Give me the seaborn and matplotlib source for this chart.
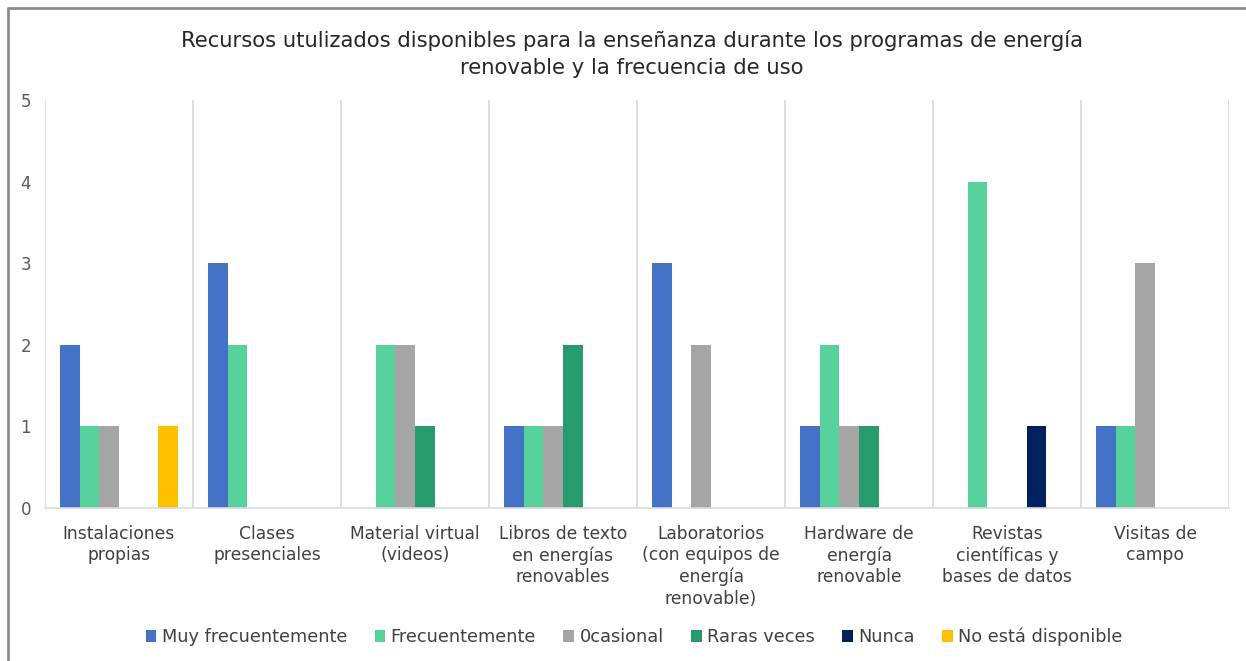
import numpy as np
import pandas as pd
import matplotlib
matplotlib.use("Agg")
import matplotlib.pyplot as plt
from matplotlib.lines import Line2D
import seaborn as sns

categories = [
    "Instalaciones\npropias",
    "Clases\npresenciales",
    "Material virtual\n(videos)",
    "Libros de texto\nen energías\nrenovables",
    "Laboratorios\n(con equipos de\nenergía\nrenovable)",
    "Hardware de\nenergía\nrenovable",
    "Revistas\ncientíficas y\nbases de datos",
    "Visitas de\ncampo",
]
series_names = ["Muy frecuentemente", "Frecuentemente", "0casional",
                "Raras veces", "Nunca", "No está disponible"]
muy_frecuentemente = [2, 3, 0, 1, 3, 1, 0, 1]
frecuentemente = [1, 2, 2, 1, 0, 2, 4, 1]
ocasional = [1, 0, 2, 1, 2, 1, 0, 3]
raras_veces = [0, 0, 1, 2, 0, 1, 0, 0]
nunca = [0, 0, 0, 0, 0, 0, 1, 0]
no_disponible = [1, 0, 0, 0, 0, 0, 0, 0]
colors = ["#4472C4", "#57D29C", "#A5A5A5", "#279B6C", "#002060", "#FFC000"]
yticks = [0, 1, 2, 3, 4, 5]
title = ("Recursos utulizados disponibles para la enseñanza durante los programas de energía\n"
         "renovable y la frecuencia de uso")

values = [muy_frecuentemente, frecuentemente, ocasional, raras_veces, nunca, no_disponible]
rows = []
for name, vals in zip(series_names, values):
    for cat, v in zip(categories, vals):
        rows.append({"cat": cat, "serie": name, "valor": v})
df = pd.DataFrame(rows)

sns.set_theme(style="white")
plt.rcParams["font.family"] = ["DejaVu Sans"]

fig = plt.figure(figsize=(12.46, 6.61), dpi=100)
ax = fig.add_axes([45/1246, 1-508/661, (1229-45)/1246, (508-100)/661])

sns.barplot(data=df, x="cat", y="valor", hue="serie", order=categories,
            hue_order=series_names, palette=colors, width=0.8, ax=ax,
            saturation=1, errorbar=None, linewidth=0)

ax.set_xlim(-0.5, len(categories) - 0.5)
ax.set_ylim(0, 5)
ax.set_yticks(yticks)
ax.set_yticklabels([str(t) for t in yticks], fontsize=12, color="#595959")
ax.tick_params(axis="y", length=0, pad=10)
ax.tick_params(axis="x", length=0, pad=12, labelsize=12.3, labelcolor="#404040")
ax.set_xlabel("")
ax.set_ylabel("")
ax.set_xticks(np.arange(-0.5, len(categories), 1), minor=True)
ax.grid(which="minor", axis="x", color="#D9D9D9", linewidth=1.2)
ax.grid(which="major", visible=False)
for s in ["top", "left", "right"]:
    ax.spines[s].set_visible(False)
ax.spines["bottom"].set_color("#D9D9D9")
ax.spines["bottom"].set_linewidth(1.2)

for lab in ax.get_xticklabels():
    lab.set_linespacing(1.25)
    lab.set_verticalalignment("top")

handles, labels = ax.get_legend_handles_labels()
ax.legend_.remove()
fig.legend(handles, labels, loc="center", bbox_to_anchor=(0.509, 1-637/661), ncol=6,
           frameon=False, fontsize=12.8, handlelength=0.6, handleheight=0.6,
           handletextpad=0.3, columnspacing=1.55, labelcolor="#404040")

fig.text(0.507, 1-54/661, title, ha="center", va="center", fontsize=15.2,
         color="#262626", linespacing=1.45)

fig.add_artist(Line2D([8/1246, 1], [1-8/661, 1-8/661], color="#8C8C8C", linewidth=2))
fig.add_artist(Line2D([8/1246, 8/1246], [0, 1-8/661], color="#8C8C8C", linewidth=2))

fig.savefig("out.png", dpi=100)
